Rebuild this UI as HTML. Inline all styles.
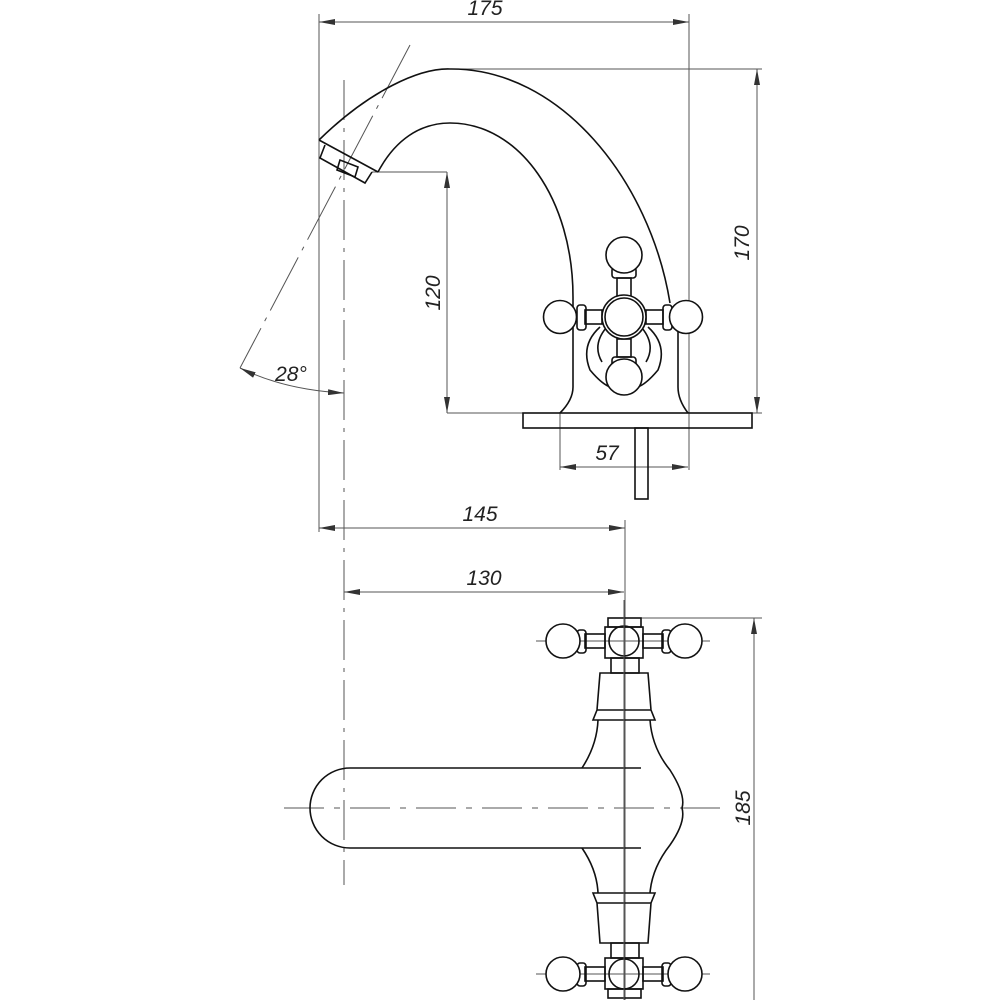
<!DOCTYPE html>
<html><head><meta charset="utf-8"><style>
html,body{margin:0;padding:0;background:#fff;}
svg{display:block;}
text{font-family:"Liberation Sans",sans-serif;font-style:italic;font-size:21px;fill:#222;}
</style></head><body>
<svg width="1000" height="1000" viewBox="0 0 1000 1000" xmlns="http://www.w3.org/2000/svg">
<defs>
<marker id="a" viewBox="0 0 16 6" refX="16" refY="3" markerWidth="16" markerHeight="6" markerUnits="userSpaceOnUse" orient="auto-start-reverse"><path d="M0,0 L16,3 L0,6 z" fill="#333"/></marker>
</defs>
<g fill="none" stroke="#555" stroke-width="1">
<line x1="319" y1="22" x2="689" y2="22" marker-start="url(#a)" marker-end="url(#a)"/>
<line x1="319" y1="14" x2="319" y2="532"/>
<line x1="689" y1="14" x2="689" y2="470"/>
<line x1="450" y1="69" x2="762" y2="69"/>
<line x1="757" y1="69" x2="757" y2="413" marker-start="url(#a)" marker-end="url(#a)"/>
<line x1="447" y1="413" x2="762" y2="413"/>
<line x1="372" y1="172" x2="447" y2="172"/>
<line x1="447" y1="172" x2="447" y2="413" marker-start="url(#a)" marker-end="url(#a)"/>
<line x1="560" y1="413" x2="560" y2="470"/>
<line x1="560" y1="467" x2="688" y2="467" marker-start="url(#a)" marker-end="url(#a)"/>
<line x1="319" y1="528" x2="625" y2="528" marker-start="url(#a)" marker-end="url(#a)"/>
<line x1="625" y1="520" x2="625" y2="1000"/>
<line x1="344" y1="592" x2="624" y2="592" marker-start="url(#a)" marker-end="url(#a)"/>
<line x1="640" y1="618" x2="762" y2="618"/>
<line x1="754" y1="618" x2="754" y2="1000" marker-start="url(#a)"/>
<line x1="410" y1="45" x2="240" y2="368" stroke-dasharray="60,8,4,8"/>
<path d="M240,368 Q285,390 344,393" marker-start="url(#a)" marker-end="url(#a)"/>
<line x1="344" y1="80" x2="344" y2="885" stroke-dasharray="40,8,4,8"/>
<line x1="284" y1="808" x2="720" y2="808" stroke-dasharray="40,10,6,10"/>
<line x1="536" y1="641" x2="710" y2="641"/>
<line x1="536" y1="974" x2="710" y2="974"/>
</g>
<g fill="none" stroke="#111" stroke-width="1.6">
<path d="M319,140 C370,90 420,68 450,69 C560,68 650,180 670,303"/>
<path d="M378,172 C395,140 420,123 450,123 C520,123 573,200 573,297"/>
<path d="M319,140 L378,172"/>
<path d="M325,145 L320,158 L365,183 L372,172"/>
<path d="M340,160 L337,170 L355,177 L358,167 z"/>
<path d="M573,297 L573,387 Q573,400 560,413"/>
<path d="M678,318 L678,387 Q678,400 688,413"/>
<rect x="523" y="413" width="229" height="15"/>
<rect x="635" y="428" width="13" height="71"/>
<path d="M600,327 Q580,345 590,370 Q605,388 615,388 M648,327 Q668,345 658,370 Q643,388 633,388"/>
<path d="M606,328 Q592,345 602,362 M642,328 Q656,345 646,362"/>
<rect x="617" y="278" width="14" height="18"/><rect x="612" y="267" width="24" height="11" rx="3"/>
<rect x="617" y="339" width="14" height="18"/><rect x="612" y="357" width="24" height="10" rx="3"/>
<rect x="585" y="310" width="17" height="14"/><rect x="577" y="305" width="9" height="25" rx="3"/>
<rect x="646" y="310" width="17" height="14"/><rect x="663" y="305" width="9" height="25" rx="3"/>
<circle cx="624" cy="255" r="18" fill="#fff"/>
<circle cx="560" cy="317" r="16.5" fill="#fff"/>
<circle cx="686" cy="317" r="16.5" fill="#fff"/>
<circle cx="624" cy="377" r="18" fill="#fff"/>
<circle cx="624" cy="317" r="22" fill="#fff"/><circle cx="624" cy="317" r="19"/>
<path d="M641,768 L350,768 A40,40 0 0 0 350,848 L641,848"/>
<path d="M582,768 Q597,745 598,720 M650,720 Q652,748 670,770 Q686,795 682,808 Q686,822 670,845 Q652,868 650,893 M598,893 Q597,870 582,848"/>
<path d="M600,673 L648,673 L651,710 L655,720 L593,720 L597,710 z M597,710 L651,710"/>
<path d="M593,893 L655,893 L651,903 L648,943 L600,943 L597,903 z M597,903 L651,903"/>
<rect x="611" y="658" width="28" height="15"/><rect x="611" y="943" width="28" height="15"/>
<rect x="608" y="618" width="33" height="9"/>
<rect x="605" y="627" width="38" height="31"/><circle cx="624" cy="641" r="15"/>
<rect x="585" y="634" width="20" height="14"/><rect x="643" y="634" width="20" height="14"/>
<rect x="577" y="630" width="9" height="23" rx="3"/><rect x="662" y="630" width="9" height="23" rx="3"/>
<circle cx="563" cy="641" r="17" fill="#fff"/><circle cx="685" cy="641" r="17" fill="#fff"/>
<rect x="605" y="958" width="38" height="31"/><circle cx="624" cy="974" r="15"/>
<rect x="608" y="989" width="33" height="9"/>
<rect x="585" y="967" width="20" height="14"/><rect x="643" y="967" width="20" height="14"/>
<rect x="577" y="963" width="9" height="23" rx="3"/><rect x="662" y="963" width="9" height="23" rx="3"/>
<circle cx="563" cy="974" r="17" fill="#fff"/><circle cx="685" cy="974" r="17" fill="#fff"/>
</g>
<line x1="624" y1="600" x2="624" y2="1000" stroke="#555" stroke-width="1"/>
<text x="485" y="15" text-anchor="middle">175</text>
<text x="480" y="521" text-anchor="middle">145</text>
<text x="484" y="585" text-anchor="middle">130</text>
<text x="607" y="460" text-anchor="middle">57</text>
<text x="291" y="381" text-anchor="middle">28°</text>
<text transform="translate(440,293) rotate(-90)" text-anchor="middle">120</text>
<text transform="translate(749,243) rotate(-90)" text-anchor="middle">170</text>
<text transform="translate(750,808) rotate(-90)" text-anchor="middle">185</text>
</svg>
</body></html>
